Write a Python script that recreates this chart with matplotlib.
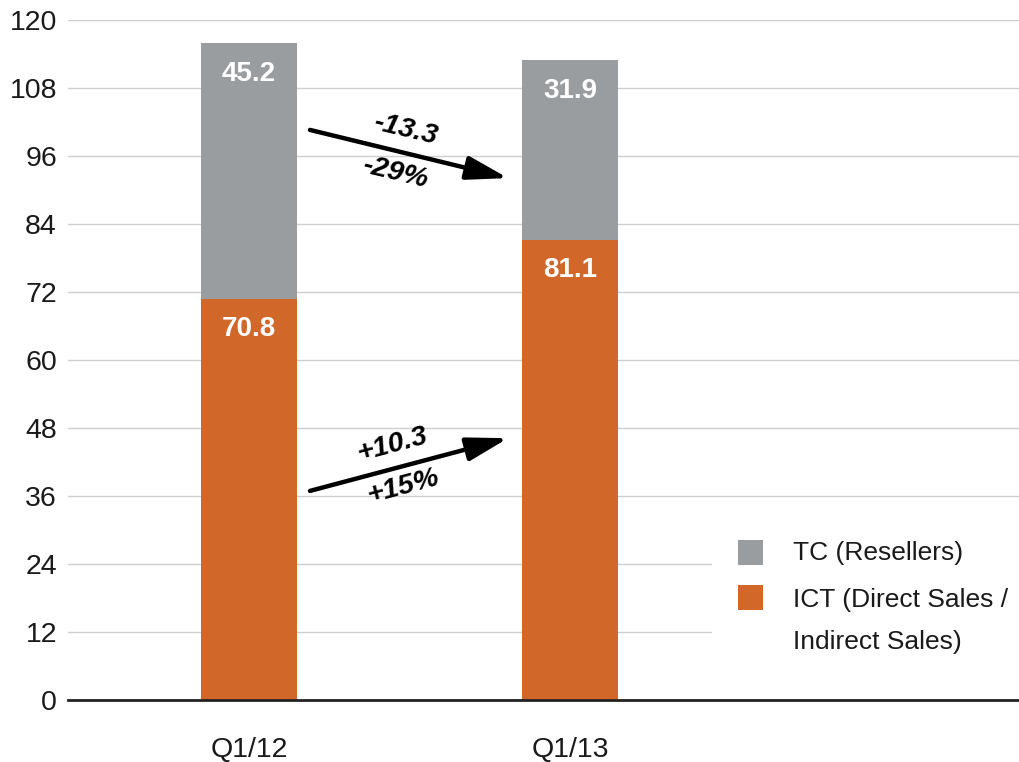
import matplotlib
matplotlib.use("Agg")
import matplotlib.pyplot as plt
from matplotlib.patches import Rectangle
import numpy as np

plt.rcParams['font.family'] = ['Liberation Sans', 'DejaVu Sans']

# Quarterly figures (stacked)
quarters = ["Q1/12", "Q1/13"]
ict = [70.8, 81.1]        # ICT (Direct Sales / Indirect Sales)
tc = [45.2, 31.9]         # TC (Resellers)
series_labels = ["TC (Resellers)", "ICT (Direct Sales /\nIndirect Sales)"]
yticks = [0, 12, 24, 36, 48, 60, 72, 84, 96, 108, 120]

c_ict = "#D2672A"
c_tc = "#9A9DA0"
fs = 20.5
fs_leg = 19

fig = plt.figure(figsize=(10.2, 7.62), dpi=100)
ax = fig.add_axes([68 / 1020, 62 / 762, 1 - 68 / 1020, 680 / 762])

x = np.arange(len(quarters))
w = 0.299
ax.bar(x, ict, width=w, color=c_ict, zorder=3)
ax.bar(x, tc, width=w, bottom=ict, color=c_tc, zorder=3)

# value labels near top of each segment
for xi, a, b in zip(x, ict, tc):
    ax.text(xi, a - 5.3, f"{a:.1f}", ha="center", va="center", color="white",
            fontsize=fs - 0.5, fontweight="bold", zorder=4)
    ax.text(xi, a + b - 5.5, f"{b:.1f}", ha="center", va="center", color="white",
            fontsize=fs - 0.5, fontweight="bold", zorder=4)

ax.set_xlim(-0.564, 2.402)
ax.set_ylim(0, 120)
ax.set_yticks(yticks)
ax.set_xticks(x)
ax.set_xticklabels(quarters)
ax.tick_params(axis="both", length=0, labelsize=fs, colors="#1a1a1a")
ax.tick_params(axis="x", pad=27)
ax.tick_params(axis="y", pad=8)
ax.yaxis.grid(True, color="#cfcfcf", lw=1.0, zorder=0)
ax.set_axisbelow(True)
for s in ["top", "right", "left"]:
    ax.spines[s].set_visible(False)
ax.spines["bottom"].set_color("#222222")
ax.spines["bottom"].set_linewidth(2)
ax.spines["bottom"].set_zorder(5)

# change arrows
arrow_kw = dict(arrowstyle="-|>,head_length=1.4,head_width=0.4", color="black",
                lw=3.2, mutation_scale=18, shrinkA=0, shrinkB=0)
ax.annotate("", xy=(0.807, 92.1), xytext=(0.19, 100.6), arrowprops=arrow_kw, zorder=6)
ax.annotate("", xy=(0.807, 46.2), xytext=(0.19, 36.9), arrowprops=arrow_kw, zorder=6)

d_tc = tc[1] - tc[0]
d_ict = ict[1] - ict[0]
p_tc = d_tc / tc[0] * 100
p_ict = d_ict / ict[0] * 100
txt_kw = dict(ha="center", va="center", fontsize=fs, fontweight="bold",
              fontstyle="italic", rotation_mode="anchor", zorder=6)
ax.text(0.486, 100.6, f"{d_tc:.1f}", rotation=-13.5, **txt_kw)
ax.text(0.455, 93.0, f"{p_tc:.0f}%", rotation=-13.5, **txt_kw)
ax.text(0.445, 45.0, f"{d_ict:+.1f}", rotation=15, **txt_kw)
ax.text(0.480, 37.6, f"{p_ict:+.0f}%", rotation=15, **txt_kw)

# legend (white panel over the grid)
W, H = 1020, 762
fig.patches.append(Rectangle((712 / W, (H - 665) / H), (W - 712) / W, 140 / H,
                             transform=fig.transFigure, facecolor="white",
                             edgecolor="none", zorder=1))
fig.patches.append(Rectangle((738 / W, (H - 565) / H), 25 / W, 25 / H,
                             transform=fig.transFigure, facecolor=c_tc,
                             edgecolor="none", zorder=2))
fig.patches.append(Rectangle((738 / W, (H - 610) / H), 25 / W, 25 / H,
                             transform=fig.transFigure, facecolor=c_ict,
                             edgecolor="none", zorder=2))
fig.text(793 / W, (H - 553) / H, series_labels[0], ha="left", va="center",
         fontsize=fs_leg, color="#1a1a1a", zorder=3)
fig.text(793 / W, (H - 621) / H, series_labels[1], ha="left", va="center",
         fontsize=fs_leg, color="#1a1a1a", zorder=3, linespacing=1.9)

fig.savefig("out.png", dpi=100)
